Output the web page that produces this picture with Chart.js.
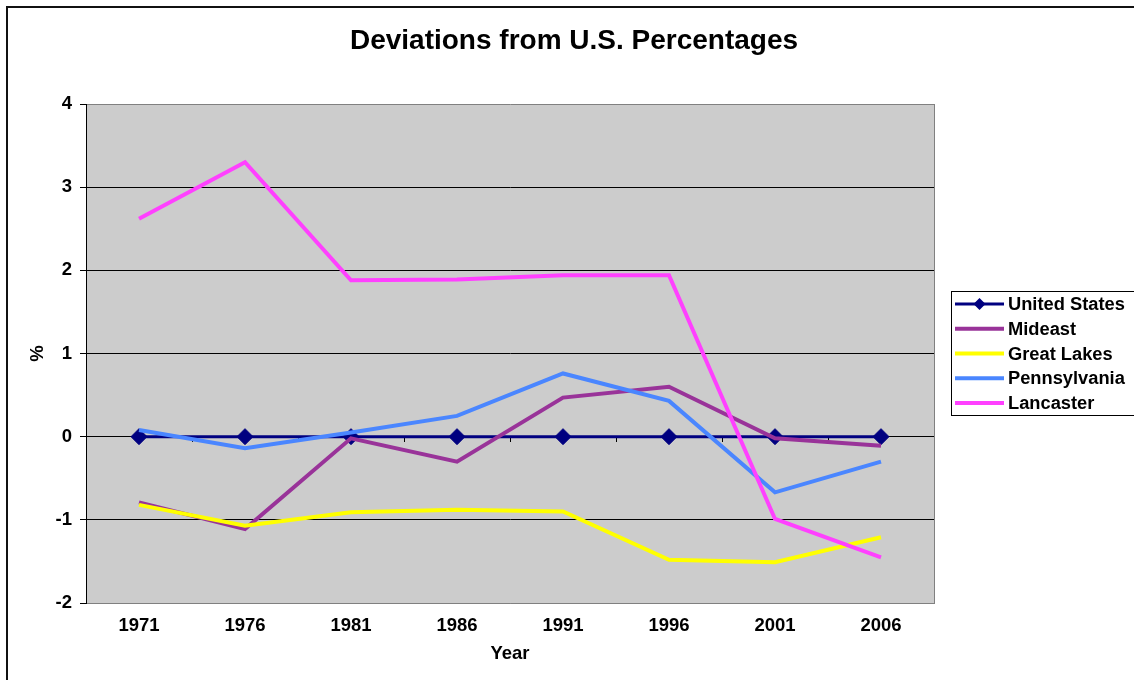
<!DOCTYPE html>
<html><head><meta charset="utf-8">
<script src="https://cdn.jsdelivr.net/npm/chart.js@4.4.0/dist/chart.umd.min.js"></script>
<style>html,body{margin:0;padding:0;background:#fff;}canvas{display:block;}</style>
</head><body>
<canvas id="c" width="1134" height="680"></canvas>
<script>
const categories = ['1971','1976','1981','1986','1991','1996','2001','2006'];
const unitedStates = [0, 0, 0, 0, 0, 0, 0, 0];
const mideast = [-0.79, -1.11, -0.02, -0.30, 0.47, 0.60, -0.02, -0.11];
const greatLakes = [-0.82, -1.07, -0.91, -0.88, -0.90, -1.48, -1.51, -1.21];
const pennsylvania = [0.08, -0.14, 0.05, 0.25, 0.76, 0.43, -0.67, -0.30];
const lancaster = [2.62, 3.30, 1.88, 1.89, 1.94, 1.94, -0.99, -1.45];
const seriesNames = ['United States','Mideast','Great Lakes','Pennsylvania','Lancaster'];
const yMin = -2, yMax = 4, yStep = 1;

const FAMILY = '"Liberation Sans", Arial, Helvetica, sans-serif';
const boldFont = (size) => ({family: FAMILY, size: size, weight: 'bold'});

const backdrop = {
  id: 'backdrop',
  beforeDraw(chart) {
    const {ctx, chartArea: a} = chart;
    ctx.save();
    ctx.fillStyle = '#ffffff';
    ctx.fillRect(0, 0, chart.width, chart.height);
    ctx.fillStyle = '#CCCCCC';
    ctx.fillRect(a.left, a.top, a.right - a.left, a.bottom - a.top);
    ctx.strokeStyle = '#111111';
    ctx.lineWidth = 2;
    ctx.beginPath();
    ctx.moveTo(7, 680); ctx.lineTo(7, 7); ctx.lineTo(1134, 7);
    ctx.stroke();
    ctx.restore();
  }
};

const boxLegend = {
  id: 'boxLegend',
  afterDraw(chart) {
    const ctx = chart.ctx;
    ctx.save();
    ctx.strokeStyle = '#000';
    ctx.lineWidth = 1;
    ctx.strokeRect(951.5, 291.5, 220, 124);
    chart.data.datasets.forEach((ds, i) => {
      const y = 304 + i * 24.75;
      ctx.strokeStyle = ds.borderColor;
      ctx.lineWidth = ds.borderWidth;
      ctx.beginPath();
      ctx.moveTo(955, y); ctx.lineTo(1004, y);
      ctx.stroke();
      if (ds.pointRadius > 0) {
        ctx.fillStyle = ds.pointBackgroundColor;
        const r = 6, cx = 979.5;
        ctx.beginPath();
        ctx.moveTo(cx, y - r); ctx.lineTo(cx + r, y); ctx.lineTo(cx, y + r); ctx.lineTo(cx - r, y);
        ctx.closePath(); ctx.fill();
      }
      ctx.fillStyle = '#000';
      ctx.font = 'bold 18.3px ' + FAMILY;
      ctx.textAlign = 'left';
      ctx.textBaseline = 'middle';
      ctx.fillText(ds.label, 1008, y + 1);
    });
    ctx.restore();
  }
};

const lineDs = (label, data, color, width, order) => ({
  label, data, borderColor: color, backgroundColor: color, borderWidth: width,
  pointRadius: 0, pointHoverRadius: 0, tension: 0, fill: false, order,
  borderCapStyle: 'butt', borderJoinStyle: 'miter'
});

const datasets = [
  Object.assign(lineDs(seriesNames[0], unitedStates, '#000080', 3, 4), {
    pointRadius: 8, pointStyle: 'rectRot', pointBackgroundColor: '#000080',
    pointBorderColor: '#000080', pointBorderWidth: 1, pointHoverRadius: 8
  }),
  lineDs(seriesNames[1], mideast, '#993399', 4, 3),
  lineDs(seriesNames[2], greatLakes, '#FFFF00', 4, 2),
  lineDs(seriesNames[3], pennsylvania, '#4A86FF', 4, 1),
  lineDs(seriesNames[4], lancaster, '#FF40FF', 4, 0)
];

new Chart(document.getElementById('c'), {
  type: 'line',
  data: {labels: categories, datasets},
  plugins: [backdrop, boxLegend],
  options: {
    responsive: false,
    animation: false,
    devicePixelRatio: 1,
    events: [],
    layout: {padding: {left: 14, top: 0, right: 0, bottom: 0}},
    plugins: {
      legend: {display: false},
      tooltip: {enabled: false},
      title: {
        display: true,
        text: 'Deviations from U.S. Percentages',
        font: boldFont(28),
        color: '#000',
        padding: {top: 24, bottom: 46.4}
      }
    },
    scales: {
      x: {
        type: 'category',
        position: 'bottom',
        offset: true,
        grid: {display: false, drawTicks: false},
        border: {display: true, color: '#808080', width: 1},
        ticks: {font: boldFont(18.5), color: '#000', padding: 12, maxRotation: 0, autoSkip: false},
        title: {display: true, text: 'Year', font: boldFont(18.5), color: '#000', padding: {top: 0, bottom: 15}},
        afterFit(s) { s.height = 77; }
      },
      xZero: {
        type: 'category',
        position: {y: 0},
        offset: true,
        grid: {offset: true, drawOnChartArea: false, drawTicks: true, tickLength: 5, color: '#000', tickColor: '#000'},
        border: {display: true, color: '#000', width: 1},
        ticks: {display: false}
      },
      y: {
        type: 'linear',
        position: 'left',
        min: yMin, max: yMax,
        ticks: {stepSize: yStep, font: boldFont(18.5), color: '#000', padding: 8},
        grid: {
          color: (c) => (c.tick && (c.tick.value === yMin || c.tick.value === yMax)) ? '#808080' : '#000',
          tickColor: '#000', tickLength: 6, lineWidth: 1
        },
        border: {display: true, color: '#000', width: 1},
        title: {display: true, text: '%', font: boldFont(18.5), color: '#000', padding: {top: 13, bottom: 0}},
        afterFit(s) { s.width = 72; }
      },
      yR: {
        type: 'linear',
        position: 'right',
        display: true,
        grid: {display: false, drawTicks: false},
        ticks: {display: false},
        border: {display: true, color: '#808080', width: 1},
        afterFit(s) { s.width = 200; }
      }
    }
  }
});
</script>
</body></html>
